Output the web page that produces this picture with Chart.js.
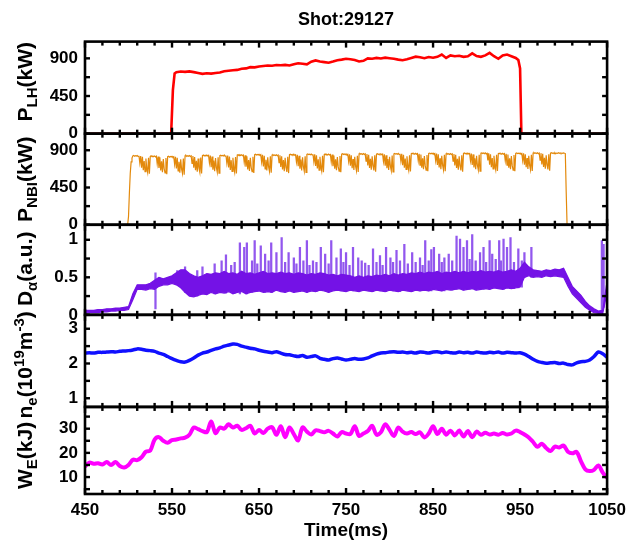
<!DOCTYPE html>
<html>
<head>
<meta charset="utf-8">
<title>Shot:29127</title>
<script src="https://cdn.jsdelivr.net/npm/chart.js@4.4.1/dist/chart.umd.min.js"></script>
<style>
  html, body { margin: 0; padding: 0; background: #fff; }
  #shot { display: block; }
</style>
</head>
<body>
<canvas id="shot" width="632" height="543"></canvas>
<script>
// ---- data ----
const timeTicks = [450, 550, 650, 750, 850, 950, 1050];
const lhTicks = [0, 450, 900];
const nbiTicks = [0, 450, 900];
const daTicks = [0, 0.5, 1];
const neTicks = [1, 2, 3];
const weTicks = [10, 20, 30];

// LH power (kW)
const lhTime = [450, 549, 551, 553,
  555, 560, 565, 570, 575, 580, 585, 590, 595, 600,
  605, 610, 615, 620, 625, 630, 635, 640, 645, 650,
  655, 660, 665, 670, 675, 680, 685, 690, 695, 700,
  705, 710, 715, 720, 725, 730, 735, 740, 745, 750,
  755, 760, 765, 770, 775, 780, 785, 790, 795, 800,
  805, 810, 815, 820, 825, 830, 835, 840, 845, 850,
  855, 860, 865, 870, 875, 880, 885, 890, 895, 900,
  905, 910, 915, 920, 925, 930, 935, 940, 945,
  948, 950, 951.5, 1050];
const lhPower = [0, 0, 520, 720,
  735, 742, 738, 744, 735, 725, 715, 722, 718, 725,
  730, 745, 752, 758, 762, 775, 780, 795, 792, 802,
  808, 815, 812, 820, 818, 822, 815, 830, 842, 835,
  828, 860, 875, 862, 855, 848, 862, 878, 885, 895,
  890, 880, 862, 870, 900, 895, 905, 898, 908, 902,
  895, 885, 878, 890, 905, 920, 912, 902, 915, 908,
  918, 945, 905, 935, 925, 930, 918, 925, 960, 928,
  918, 935, 965, 925, 895, 935, 945, 925, 905,
  880, 780, 0, 0];

// NBI power (kW), one sample per ms from 495 ms
const nbiStart = 495;
const nbiPower = [
  0, 0, 0, 0, 0, 100, 380, 620, 760, 805,
  832,838,828,835,830,836,826,834,745,830,690,820,660,770,640,800,680,630,810,615,
  826,833,822,829,824,831,820,828,735,825,685,815,655,765,635,795,675,625,805,610,
  822,828,816,824,818,826,815,822,730,820,680,808,650,760,630,790,672,620,800,605,
  832,838,826,834,828,836,825,833,740,830,690,818,660,772,640,800,684,632,812,618,
  836,842,831,839,833,841,830,838,748,835,695,824,666,776,646,806,690,636,816,622,
  834,840,832,838,830,842,828,837,745,836,692,825,662,780,644,808,688,634,818,620,
  842,846,836,844,838,846,834,842,752,840,700,828,668,782,650,810,694,640,822,626,
  846,852,842,848,842,850,840,847,756,845,704,834,674,786,655,815,698,645,826,630,
  840,846,837,843,836,845,834,841,750,840,698,828,668,782,648,810,692,638,820,624,
  847,851,843,849,841,852,839,846,758,846,706,833,676,788,656,816,700,646,828,632,
  851,856,847,853,846,855,844,851,762,850,710,838,680,792,660,820,704,650,832,636,
  849,855,845,851,844,853,842,849,760,848,706,836,678,790,658,818,702,648,830,634,
  852,857,848,854,846,856,845,852,764,850,712,840,682,794,662,822,706,652,834,638,
  856,861,852,858,850,860,849,856,768,855,716,844,686,798,666,826,710,656,838,642,
  853,858,849,855,848,857,846,853,764,852,712,840,682,795,662,822,706,652,835,638,
  857,862,853,859,851,861,850,857,770,856,718,845,688,800,668,828,712,658,840,644,
  859,864,855,861,853,863,852,859,772,858,720,848,690,802,670,830,714,660,842,646,
  862,866,858,864,856,866,854,861,774,860,722,850,692,804,672,832,716,662,844,648,
  856,861,852,858,850,860,849,856,768,855,716,844,686,798,666,826,710,656,838,642,
  861,866,857,863,855,865,854,861,774,860,722,850,692,804,672,832,716,662,844,648,
  864,868,860,866,858,868,856,863,776,862,724,852,694,806,674,834,718,664,846,650,
  859,864,855,861,853,863,852,859,772,858,720,848,690,802,670,830,714,660,842,646,
  863,868,859,865,857,867,856,862,776,862,724,852,694,806,674,834,718,664,846,650,
  866,871,862,868,860,870,859,866,780,865,728,856,698,810,678,838,722,668,850,654,
  866,870,862,868,860,869,858,866,862,870,864,868,860,866,862,868,864,860,400,0,0
];

// 5 ms samples from 450 to 1050 ms
const sampleStart = 450, sampleStep = 5;

// D-alpha band (a.u.): lower and upper edge of the dense trace
const daLow = [
  0.02,0.03,0.03,0.03,0.04,0.04,0.05,0.05,0.06,0.06,
  0.07,0.20,0.34,0.34,0.33,0.35,0.34,0.38,0.40,0.40,
  0.42,0.40,0.36,0.30,0.25,0.24,0.26,0.28,0.27,0.30,
  0.28,0.30,0.29,0.31,0.28,0.30,0.31,0.28,0.30,0.31,
  0.32,0.30,0.31,0.30,0.33,0.31,0.30,0.32,0.30,0.31,
  0.32,0.30,0.32,0.31,0.33,0.32,0.30,0.32,0.33,0.32,
  0.31,0.33,0.32,0.31,0.33,0.32,0.31,0.33,0.32,0.31,
  0.33,0.32,0.31,0.33,0.32,0.31,0.33,0.32,0.33,0.32,
  0.34,0.33,0.32,0.34,0.33,0.34,0.35,0.33,0.34,0.35,
  0.33,0.34,0.35,0.34,0.36,0.35,0.34,0.36,0.35,0.36,
  0.37,0.50,0.52,0.50,0.51,0.50,0.52,0.51,0.52,0.51,
  0.50,0.38,0.28,0.22,0.16,0.10,0.06,0.03,0.02,0.02,
  0.30];
const daHigh = [
  0.06,0.06,0.06,0.07,0.07,0.08,0.08,0.09,0.09,0.10,
  0.11,0.28,0.40,0.40,0.40,0.42,0.46,0.50,0.48,0.50,
  0.52,0.56,0.60,0.60,0.55,0.52,0.50,0.52,0.55,0.54,
  0.56,0.55,0.58,0.55,0.56,0.54,0.58,0.55,0.56,0.54,
  0.56,0.58,0.55,0.56,0.55,0.57,0.55,0.56,0.54,0.56,
  0.55,0.53,0.55,0.54,0.56,0.55,0.53,0.54,0.52,0.54,
  0.53,0.52,0.50,0.52,0.50,0.52,0.51,0.53,0.52,0.54,
  0.52,0.55,0.53,0.55,0.54,0.56,0.55,0.57,0.55,0.57,
  0.56,0.58,0.55,0.57,0.56,0.58,0.56,0.58,0.56,0.58,
  0.57,0.59,0.57,0.58,0.57,0.59,0.57,0.58,0.60,0.58,
  0.62,0.70,0.64,0.60,0.59,0.58,0.60,0.59,0.61,0.60,
  0.62,0.50,0.38,0.32,0.26,0.18,0.12,0.08,0.05,0.06,
  0.45];

// D-alpha bursts (ELM-like spikes)
const spikeTime = [531, 556, 565, 579, 585, 599, 607, 612, 618, 622,
  628, 633, 636, 642, 645, 648, 652, 657, 661, 664,
  670, 676, 680, 684, 690, 693, 697, 701, 705, 708,
  712, 716, 721, 726, 730, 733, 739, 744, 747, 750,
  754, 758, 764, 768, 772, 776, 781, 785, 789, 792,
  796, 801, 804, 808, 812, 817, 821, 826, 830, 835,
  838, 841, 845, 848, 851, 857, 860, 863, 868, 872,
  877, 881, 885, 889, 892, 895, 899, 904, 908, 911,
  915, 918, 922, 926, 928, 931, 935, 939, 943, 948,
  952, 955, 963, 1044, 1046];
const spikeLow = [0.08, 0.40, 0.30, 0.25, 0.28, 0.28, 0.30, 0.29, 0.31, 0.29,
  0.28, 0.30, 0.28, 0.30, 0.31, 0.31, 0.32, 0.30, 0.31, 0.30,
  0.33, 0.31, 0.30, 0.32, 0.30, 0.31, 0.31, 0.32, 0.30, 0.31,
  0.32, 0.31, 0.33, 0.32, 0.30, 0.32, 0.33, 0.32, 0.32, 0.31,
  0.33, 0.32, 0.31, 0.33, 0.33, 0.32, 0.31, 0.33, 0.32, 0.32,
  0.31, 0.33, 0.32, 0.32, 0.31, 0.33, 0.32, 0.31, 0.33, 0.32,
  0.33, 0.33, 0.32, 0.32, 0.34, 0.33, 0.32, 0.32, 0.34, 0.33,
  0.34, 0.35, 0.33, 0.34, 0.34, 0.35, 0.33, 0.34, 0.34, 0.35,
  0.34, 0.35, 0.36, 0.35, 0.35, 0.34, 0.36, 0.35, 0.35, 0.36,
  0.37, 0.50, 0.50, 0.03, 0.10];
const spikeTop = [0.56, 0.59, 0.64, 0.59, 0.64, 0.68, 0.72, 0.80, 0.66, 0.70,
  0.96, 0.90, 0.96, 0.72, 0.99, 0.68, 0.92, 0.81, 0.72, 0.96,
  0.83, 1.03, 0.70, 0.83, 0.76, 0.68, 0.90, 0.72, 0.99, 0.66,
  0.72, 0.70, 0.90, 0.81, 0.68, 0.99, 0.76, 0.88, 0.70, 0.83,
  0.66, 0.90, 0.76, 0.72, 0.69, 0.66, 0.88, 0.70, 0.79, 0.66,
  0.90, 0.76, 0.70, 0.86, 0.72, 0.94, 0.68, 0.83, 0.70, 0.76,
  0.66, 0.99, 0.72, 0.87, 0.90, 0.81, 0.70, 0.76, 0.81, 0.72,
  1.05, 1.01, 0.90, 0.99, 0.74, 1.07, 0.72, 0.83, 0.90, 0.70,
  0.99, 0.81, 0.74, 0.99, 0.72, 1.01, 0.90, 1.03, 0.70, 0.88,
  0.72, 0.83, 0.90, 0.99, 0.94];

// line-averaged density (10^19 m^-3)
const neDensity = [
  2.30, 2.31, 2.30, 2.32, 2.32, 2.33, 2.34, 2.33, 2.35, 2.36,
  2.37, 2.39, 2.42, 2.41, 2.38, 2.37, 2.35, 2.30, 2.26, 2.20,
  2.14, 2.09, 2.05, 2.04, 2.09, 2.16, 2.24, 2.30, 2.33, 2.38,
  2.42, 2.45, 2.50, 2.53, 2.56, 2.55, 2.50, 2.47, 2.44, 2.42,
  2.38, 2.35, 2.33, 2.31, 2.34, 2.30, 2.26, 2.25, 2.22, 2.20,
  2.23, 2.18, 2.20, 2.22, 2.15, 2.12, 2.10, 2.14, 2.16, 2.13,
  2.10, 2.12, 2.14, 2.12, 2.13, 2.16, 2.22, 2.27, 2.30, 2.31,
  2.33, 2.34, 2.32, 2.33, 2.31, 2.32, 2.30, 2.33, 2.32, 2.30,
  2.33, 2.34, 2.31, 2.33, 2.31, 2.30, 2.33, 2.31, 2.32, 2.30,
  2.33, 2.31, 2.30, 2.32, 2.31, 2.33, 2.30, 2.32, 2.31, 2.30,
  2.31, 2.27, 2.20, 2.12, 2.06, 2.03, 2.01, 2.02, 2.03, 2.00,
  2.01, 1.97, 1.96, 2.02, 2.05, 2.06, 2.10, 2.20, 2.33, 2.28,
  2.18];

// stored energy (kJ)
const storedEnergy = [
  14.4, 16.0, 15.5, 15.7, 15.2, 16.2, 15.0, 16.2, 14.6, 14.0,
  15.0, 17.2, 17.0, 18.2, 20.5, 21.0, 25.5, 26.5, 25.0, 24.2,
  25.3, 25.5, 26.0, 26.3, 27.5, 30.5, 29.8, 29.0, 28.6, 33.0,
  28.2, 30.5, 30.0, 31.8, 30.5, 31.2, 29.5, 30.2, 31.2, 28.0,
  29.5, 28.2, 30.0, 30.6, 27.5, 31.0, 26.5, 30.5, 27.8, 25.2,
  30.5, 28.8, 27.6, 29.3, 29.0, 28.5, 29.1, 28.0, 26.8, 28.6,
  28.0, 27.8, 31.0, 27.0, 28.0, 29.0, 31.2, 27.5, 28.5, 31.8,
  29.5, 27.0, 30.5, 28.8, 28.0, 28.6, 27.8, 28.5, 26.4, 28.0,
  31.0, 27.8, 30.0, 27.5, 29.2, 27.2, 29.3, 26.8, 29.0, 26.5,
  28.8, 27.5, 28.3, 27.6, 28.0, 27.5, 28.2, 27.6, 28.0, 29.2,
  28.6, 27.6, 26.4, 24.5, 22.5, 23.8, 22.0, 20.8, 22.6, 22.2,
  23.0, 20.5, 19.8, 20.4, 16.5, 13.2, 12.5, 13.0, 14.8, 11.8,
  9.6];

// ---- chart ----
const FONT = "'Liberation Sans', Arial, Helvetica, sans-serif";
const tickFont = { family: FONT, size: 17, weight: 'bold' };
const PANELS = ['yLh', 'yNbi', 'yDa', 'yNe', 'yW'];
const minorStep = { yLh: 225, yNbi: 225, yDa: 0.25, yNe: 0.5, yW: 5 };
const titleShift = { yLh: -6, yNbi: 0, yDa: -1, yNe: 4, yW: 5 };
const titleParts = {
  yLh: [['P', 0], ['LH', 1], ['(kW)', 0]],
  yNbi: [['P', 0], ['NBI', 1], ['(kW)', 0]],
  yDa: [['D', 0], ['\u03b1', 1], ['(a.u.)', 0]],
  yNe: [['n', 0], ['e', 1], ['(10', 0], ['19', 2], ['m', 0], ['-3', 2], [')', 0]],
  yW: [['W', 0], ['E', 1], ['(kJ)', 0]]
};

const at5 = i => sampleStart + sampleStep * i;

// boxed panels with inward ticks on every side
const panelFrame = {
  id: 'panelFrame',
  afterDatasetsDraw(chart) {
    const { ctx, chartArea: { left, right } } = chart;
    const xs = chart.scales.x;
    const seg = (x1, y1, x2, y2) => { ctx.beginPath(); ctx.moveTo(x1, y1); ctx.lineTo(x2, y2); ctx.stroke(); };
    ctx.save();
    ctx.strokeStyle = '#000';
    PANELS.forEach(id => {
      const ys = chart.scales[id];
      const top = ys.top, bot = ys.bottom;
      ctx.lineWidth = 2.4;
      for (let t = 450; t <= 1050; t += 20) {
        const px = xs.getPixelForValue(t);
        const len = (t - 450) % 100 === 0 ? 6 : 4;
        seg(px, top, px, top + len);
        seg(px, bot, px, bot - len);
      }
      const step = minorStep[id];
      for (let v = Math.ceil(ys.min / step) * step; v <= ys.max + 1e-9; v += step) {
        const py = ys.getPixelForValue(v);
        seg(left, py, left + 5, py);
        seg(right, py, right - 5, py);
      }
      ctx.lineWidth = 2.6;
      ctx.strokeRect(left, top, right - left, bot - top);
    });
    ctx.restore();
  }
};

// rotated axis titles with sub/superscripts
const axisTitles = {
  id: 'axisTitles',
  afterDraw(chart) {
    const ctx = chart.ctx;
    const fontFor = k => `bold ${k ? 15 : 21}px ${FONT}`;
    PANELS.forEach(id => {
      const s = chart.scales[id];
      const parts = titleParts[id];
      ctx.save();
      ctx.translate(32, (s.top + s.bottom) / 2 + titleShift[id]);
      ctx.rotate(-Math.PI / 2);
      ctx.fillStyle = '#000';
      ctx.textBaseline = 'alphabetic';
      let w = 0;
      parts.forEach(([txt, k]) => { ctx.font = fontFor(k); w += ctx.measureText(txt).width; });
      let x = -w / 2;
      parts.forEach(([txt, k]) => {
        ctx.font = fontFor(k);
        ctx.fillText(txt, x, k === 1 ? 5 : k === 2 ? -8 : 0);
        x += ctx.measureText(txt).width;
      });
      ctx.restore();
    });
  }
};

function panelAxis(min, max, ticks, weight) {
  return {
    type: 'linear', axis: 'y', position: 'left', stack: 'shot', stackWeight: weight,
    min: min, max: max,
    grid: { display: false, drawTicks: false },
    border: { display: false },
    afterBuildTicks: s => { s.ticks = ticks.map(v => ({ value: v })); },
    afterFit: s => { s.width = 85; },
    ticks: { color: '#000', padding: 7, autoSkip: false, font: tickFont, callback: v => String(v) }
  };
}

new Chart(document.getElementById('shot'), {
  type: 'line',
  data: {
    datasets: [
      { label: 'P_LH', yAxisID: 'yLh', borderColor: '#ff0000', borderWidth: 2.6,
        data: lhTime.map((t, i) => ({ x: t, y: lhPower[i] })) },
      { label: 'P_NBI', yAxisID: 'yNbi', borderColor: '#e3890b', borderWidth: 1.2,
        data: nbiPower.map((v, i) => ({ x: nbiStart + i, y: v })) },
      { label: 'Da low', yAxisID: 'yDa', borderColor: '#7412e6', borderWidth: 1.2, fill: false,
        data: daLow.map((v, i) => ({ x: at5(i), y: v })) },
      { label: 'Da high', yAxisID: 'yDa', borderColor: '#7412e6', borderWidth: 1.2,
        backgroundColor: '#7412e6', fill: '-1',
        data: daHigh.map((v, i) => ({ x: at5(i), y: v })) },
      { type: 'bar', label: 'Da spikes', yAxisID: 'yDa', backgroundColor: '#9257ee',
        barThickness: 1.6, grouped: false,
        data: spikeTime.map((t, i) => ({ x: t, y: [spikeLow[i], spikeTop[i]] })) },
      { label: 'n_e', yAxisID: 'yNe', borderColor: '#1010ff', borderWidth: 3.5, tension: 0.3,
        data: neDensity.map((v, i) => ({ x: at5(i), y: v })) },
      { label: 'W_E', yAxisID: 'yW', borderColor: '#ff00ff', borderWidth: 4, tension: 0.35,
        data: storedEnergy.map((v, i) => ({ x: at5(i), y: v })) }
    ]
  },
  options: {
    responsive: false,
    animation: false,
    events: [],
    layout: { padding: { left: 0, right: 21, top: 0, bottom: 0 } },
    elements: { point: { radius: 0 }, line: { tension: 0 } },
    plugins: {
      legend: { display: false },
      tooltip: { enabled: false },
      title: {
        display: true, text: 'Shot:29127', color: '#000', fullSize: false,
        font: { family: FONT, size: 18, weight: 'bold' },
        padding: { top: 9, bottom: 11 }
      }
    },
    scales: {
      x: {
        type: 'linear', position: 'bottom', min: 450, max: 1050, offset: false,
        grid: { display: false, drawTicks: false },
        border: { display: false },
        afterBuildTicks: s => { s.ticks = timeTicks.map(v => ({ value: v })); },
        afterFit: s => { s.height = 49; },
        ticks: { color: '#000', padding: 6, autoSkip: false, maxRotation: 0, font: tickFont,
          callback: v => String(v) },
        title: { display: true, text: 'Time(ms)', color: '#000',
          font: { family: FONT, size: 19, weight: 'bold' }, padding: { top: 0, bottom: 1 } }
      },
      yW: panelAxis(3, 39, weTicks, 87),
      yNe: panelAxis(0.75, 3.4, neTicks, 92),
      yDa: panelAxis(0, 1.2, daTicks, 90),
      yNbi: panelAxis(0, 1100, nbiTicks, 91),
      yLh: panelAxis(0, 1100, lhTicks, 92)
    }
  },
  plugins: [panelFrame, axisTitles]
});
</script>
</body>
</html>
